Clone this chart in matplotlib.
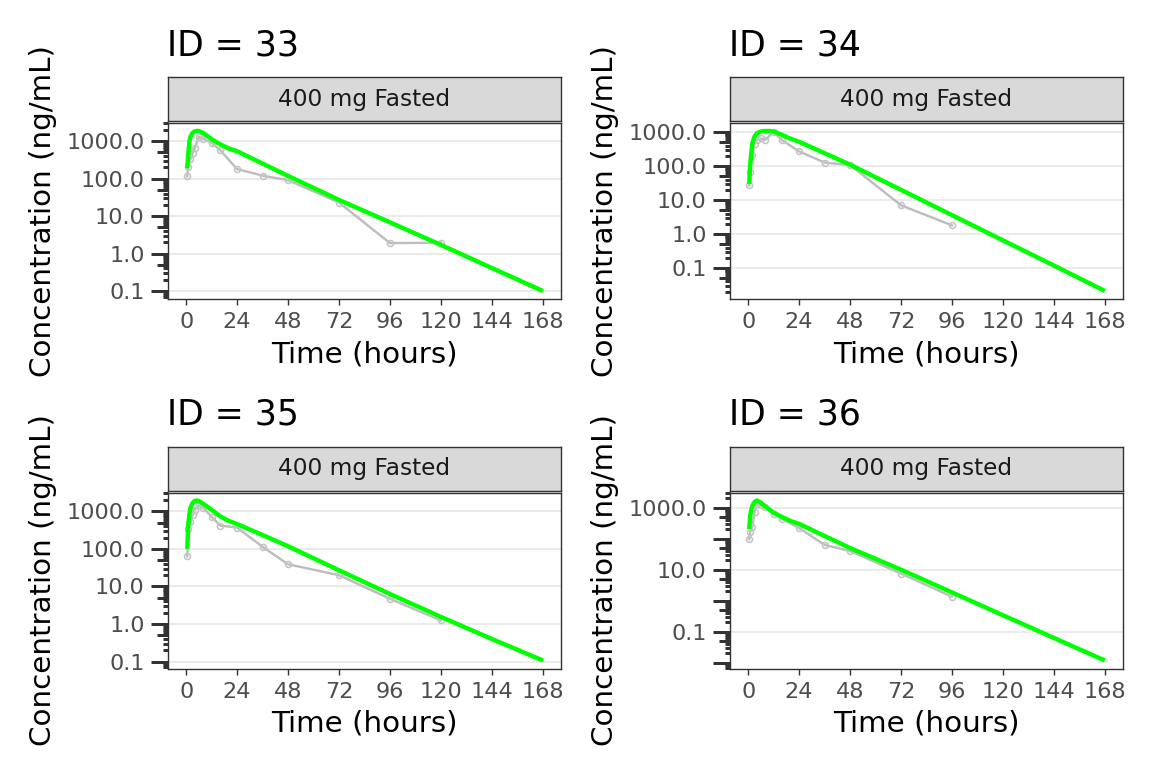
import numpy as np
import matplotlib
matplotlib.use("Agg")
import matplotlib.pyplot as plt
from matplotlib.transforms import blended_transform_factory
from matplotlib.ticker import FixedLocator, NullLocator, FuncFormatter

# ---------------- data ----------------
ids = [33, 34, 35, 36]
strip_label = "400 mg Fasted"
x_breaks = [0, 24, 48, 72, 96, 120, 144, 168]

obs_time_33 = [0.5, 1, 2, 3, 4, 6, 8, 12, 16, 24, 36, 48, 72, 96, 120]
obs_conc_33 = [115, 210, 330, 470, 640, 1300, 1175, 900, 580, 180, 120, 91, 23, 1.9, 1.95]
obs_time_34 = [0.5, 1, 2, 3, 4, 6, 8, 12, 16, 24, 36, 48, 72, 96]
obs_conc_34 = [27, 68, 210, 450, 600, 650, 590, 1000, 580, 270, 127, 108, 7.0, 1.8]
obs_time_35 = [0.5, 1, 2, 3, 4, 6, 8, 12, 16, 24, 36, 48, 72, 96, 120]
obs_conc_35 = [64, 330, 520, 800, 1100, 1450, 1250, 720, 420, 370, 114, 39, 20, 4.7, 1.25]
obs_time_36 = [0.5, 1, 2, 3, 4, 6, 8, 12, 16, 24, 36, 48, 72, 96]
obs_conc_36 = [97, 170, 240, 700, 1300, 1200, 1050, 620, 430, 220, 63, 40, 7.5, 1.35]

pred_time = [0.5, 1, 1.5, 2, 3, 4, 5, 6, 8, 10, 12, 16, 20, 24, 36, 48, 72, 96, 120, 144, 168]
pred_conc_33 = [190, 430, 960, 1300, 1660, 1830, 1870, 1870, 1660, 1380, 1130, 830, 640, 540, 252, 118, 27, 6.8, 1.7, 0.41, 0.1]
pred_conc_34 = [30, 120, 240, 470, 740, 900, 990, 1040, 1080, 1080, 1040, 830, 640, 520, 240, 110, 20, 3.6, 0.65, 0.118, 0.021]
pred_conc_35 = [100, 443, 816, 1230, 1660, 1900, 1950, 1880, 1600, 1330, 1100, 740, 560, 460, 235, 118, 27, 6.3, 1.55, 0.40, 0.107]
pred_conc_36 = [205, 570, 880, 1150, 1520, 1700, 1590, 1440, 1100, 860, 690, 500, 370, 300, 122, 50, 10, 1.85, 0.34, 0.063, 0.0118]

y_breaks_33 = [0.1, 1, 10, 100, 1000]
y_breaks_34 = [0.1, 1, 10, 100, 1000]
y_breaks_35 = [0.1, 1, 10, 100, 1000]
y_breaks_36 = [0.1, 10, 1000]

panels = [
    (ids[0], obs_time_33, obs_conc_33, pred_conc_33, y_breaks_33),
    (ids[1], obs_time_34, obs_conc_34, pred_conc_34, y_breaks_34),
    (ids[2], obs_time_35, obs_conc_35, pred_conc_35, y_breaks_35),
    (ids[3], obs_time_36, obs_conc_36, pred_conc_36, y_breaks_36),
]

# ---------------- layout ----------------
W, H = 1152, 768
DPI = 144
fig = plt.figure(figsize=(W / DPI, H / DPI), dpi=DPI)
fig.patch.set_facecolor("white")

col_left = [168.3, 730.3]
panel_w = 392.4
row_top = [77.3, 446.8]


def rect(l, t, r, b):
    return [l / W, 1 - b / H, (r - l) / W, (b - t) / H]


DARK = "#333333"
GRID = "#EBEBEB"
TICKTXT = "#4D4D4D"

for i, (pid, ot, oc, pc, yb) in enumerate(panels):
    L = col_left[i % 2]
    R = L + panel_w
    T0 = row_top[i // 2]
    st_t, st_b = T0, T0 + 44.0
    p_t, p_b = T0 + 45.7, T0 + 221.7
    p_h = p_b - p_t

    # strip
    axs = fig.add_axes(rect(L, st_t, R, st_b))
    axs.set_facecolor("#D9D9D9")
    axs.set_xticks([])
    axs.set_yticks([])
    for sp in axs.spines.values():
        sp.set_color(DARK)
        sp.set_linewidth(0.7)
    axs.text(0.5, 0.5, strip_label, ha="center", va="center",
             fontsize=11.6, color="#1A1A1A", transform=axs.transAxes)

    # title
    fig.text((L - 1.5) / W, 1 - (T0 - 22.3) / H, "ID = %d" % pid,
             fontsize=17.4, ha="left", va="baseline", color="black")

    # main panel
    ax = fig.add_axes(rect(L, p_t, R, p_b))
    ax.set_yscale("log")
    ax.plot(ot, oc, color="#BDBDBD", lw=1.2, zorder=2)
    ax.plot(ot, oc, ls="none", marker="o", ms=3.0, mfc="none",
            mec="#C4C4C4", mew=0.8, zorder=3)
    ax.plot(pred_time, pc, color="#00FF00", lw=2.2, zorder=4,
            solid_capstyle="butt")

    # limits with 5% expansion (ggplot style)
    allv = np.log10(np.concatenate([np.asarray(oc, float), np.asarray(pc, float)]))
    lo, hi = allv.min(), allv.max()
    pad = 0.05 * (hi - lo)
    ax.set_ylim(10 ** (lo - pad), 10 ** (hi + pad))
    ax.set_xlim(-0.05 * 168, 168 * 1.05)

    ax.yaxis.set_major_locator(FixedLocator(yb))
    ax.yaxis.set_minor_locator(NullLocator())
    ax.yaxis.set_major_formatter(FuncFormatter(lambda v, p: "%.1f" % v))
    ax.set_xticks(x_breaks)
    ax.set_xticklabels([str(v) for v in x_breaks])

    ax.grid(False)
    ax.yaxis.grid(True, color=GRID, lw=1.0, zorder=0)
    ax.set_axisbelow(True)
    for sp in ax.spines.values():
        sp.set_color(DARK)
        sp.set_linewidth(0.7)

    ax.tick_params(axis="x", length=2.75, width=0.7, color=DARK,
                   labelsize=11.2, labelcolor=TICKTXT, pad=3.8)
    ax.tick_params(axis="y", length=0, labelsize=11.2,
                   labelcolor=TICKTXT, pad=11.8)

    # log ticks drawn outside the left edge
    tr = blended_transform_factory(ax.transAxes, ax.transData)
    ymin, ymax = ax.get_ylim()
    for k in range(int(np.floor(np.log10(ymin))), int(np.ceil(np.log10(ymax))) + 1):
        for m in range(1, 10):
            v = m * 10.0 ** k
            if v < ymin or v > ymax:
                continue
            if m == 1:
                ln = 17.0
            elif m == 5:
                ln = 11.3
            else:
                ln = 5.67
            ax.plot([0, -ln / panel_w], [v, v], transform=tr, color=DARK,
                    lw=1.5, clip_on=False, solid_capstyle="butt", zorder=5)

    ax.set_xlabel("Time (hours)", fontsize=14.7, color="black")
    ax.xaxis.set_label_coords(0.5, -(340.0 - 299.0) / p_h)
    ax.set_ylabel("Concentration (ng/mL)", fontsize=14.7, color="black")
    ax.yaxis.set_label_coords(-(168.3 - 57.0) / panel_w, 0.5)

fig.savefig("out.png", dpi=DPI)
